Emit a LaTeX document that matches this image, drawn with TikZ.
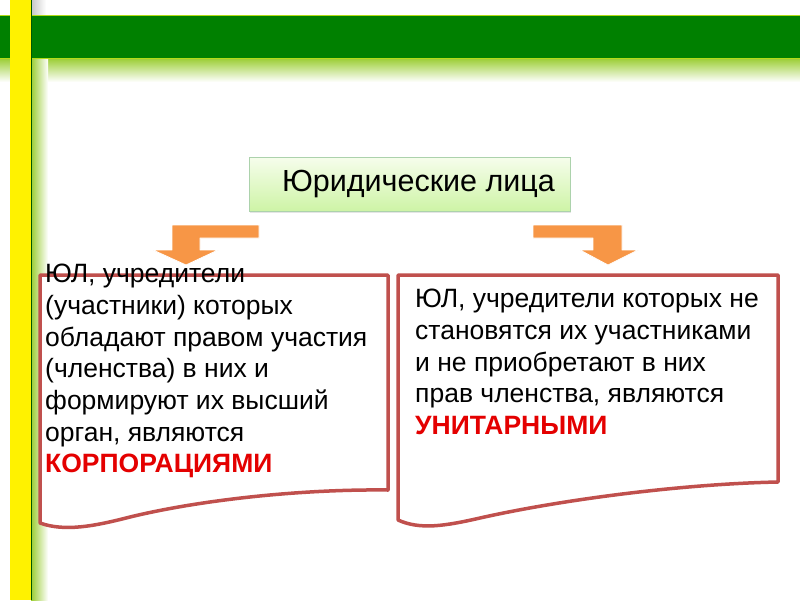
\documentclass[tikz,border=0pt]{standalone}
\usepackage{fontspec}
\setmainfont{Liberation Sans}
\usetikzlibrary{shadows}

\definecolor{barGreen}{RGB}{0,128,0}
\definecolor{lightGreen}{RGB}{154,205,50}
\definecolor{boxRed}{RGB}{192,80,77}
\definecolor{arrowOrange}{RGB}{247,150,70}
\definecolor{textRed}{RGB}{228,0,0}
\definecolor{titleTop}{RGB}{246,253,236}
\definecolor{titleBottom}{RGB}{206,244,166}

\tikzset{
	docbox/.style = {draw=boxRed, line width=3.5pt, fill=white, line join=round},
	bentarrow/.style = {fill=arrowOrange, draw=white, line width=0.8pt, line join=round},
	bodytext/.style = {anchor=north west, inner sep=0pt, align=left, font=\fontsize{26.5}{31.7}\selectfont},
	titlebox/.style = {draw=green!30!gray!50, top color=titleTop, bottom color=titleBottom,
		font=\fontsize{30.5}{36}\selectfont, drop shadow={opacity=0.2, shadow xshift=1pt, shadow yshift=-2pt}}
}

\begin{document}
\begin{tikzpicture}[x=1pt, y=-1pt]
	\useasboundingbox (0,0) rectangle (800,600);
	\fill [white] (0,0) rectangle (800,600);

	% top bar and left strip
	\shade [top color=lightGreen, bottom color=white] (0,58) rectangle (800,82);
	\shade [left color=lightGreen, right color=white] (31,58) rectangle (48,600);
	\shade [left color=gray!45, right color=white] (31,0) rectangle (46,15);
	\fill [barGreen] (0,15) rectangle (800,58);
	\draw [yellow!70!green, line width=0.8pt] (0,15) -- (800,15) (0,58) -- (800,58);
	\fill [yellow] (10,0) rectangle (31,600);
	\draw [green!35!black, line width=1pt] (31.5,0) -- (31.5,600);

	\node (title) [titlebox, minimum width=321pt, minimum height=54pt] at (409.5,184) {\hspace*{18pt}Юридические лица};

	% bent arrows
	\draw [bentarrow] (259,225) -- (172,225) -- (172,250) -- (153,250) -- (186,265) -- (218,250) -- (200,250) -- (200,238) -- (259,238) -- cycle;
	\draw [bentarrow] (533,225) -- (622,225) -- (622,250) -- (638,250) -- (608,265) -- (580,250) -- (593,250) -- (593,238) -- (533,238) -- cycle;

	% documents
	\draw [docbox] (40,275) -- (388,275) -- (388,490) .. controls (300,489) and (200,500) .. (130,517) .. controls (95,526) and (65,532) .. (40,523) -- cycle;
	\draw [docbox] (398,275) -- (778,275) -- (778,482) .. controls (680,484) and (560,500) .. (480,518) .. controls (445,526) and (420,530) .. (398,520) -- cycle;

	\node (corp) [bodytext] at (45,264) {ЮЛ, учредители\\(участники) которых\\обладают правом участия\\(членства) в них и\\формируют их высший\\орган, являются\\\textcolor{textRed}{\textbf{КОРПОРАЦИЯМИ}}};
	\node (unit) [bodytext] at (415,289) {ЮЛ, учредители которых не\\становятся их участниками\\и не приобретают в них\\прав членства, являются\\\textcolor{textRed}{\textbf{УНИТАРНЫМИ}}};

\end{tikzpicture}
\end{document}
